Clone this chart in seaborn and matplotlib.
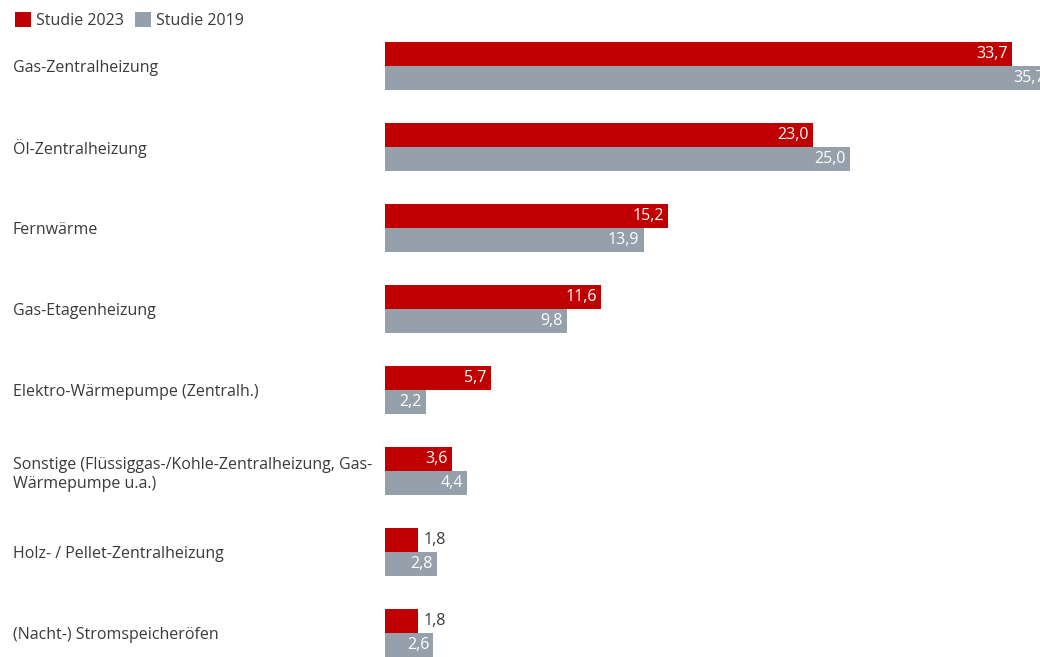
import matplotlib
matplotlib.use("Agg")
import matplotlib.pyplot as plt
import seaborn as sns
import pandas as pd

categories = [
    "Gas-Zentralheizung",
    "Öl-Zentralheizung",
    "Fernwärme",
    "Gas-Etagenheizung",
    "Elektro-Wärmepumpe (Zentralh.)",
    "Sonstige (Flüssiggas-/Kohle-Zentralheizung, Gas-\nWärmepumpe u.a.)",
    "Holz- / Pellet-Zentralheizung",
    "(Nacht-) Stromspeicheröfen",
]
studie_2023 = [33.7, 23.0, 15.2, 11.6, 5.7, 3.6, 1.8, 1.8]
studie_2019 = [35.7, 25.0, 13.9, 9.8, 2.2, 4.4, 2.8, 2.6]
series = ["Studie 2023", "Studie 2019"]
colors = ["#C00000", "#96A0AA"]

df = pd.DataFrame({
    "Kategorie": categories * 2,
    "Wert": studie_2023 + studie_2019,
    "Studie": [series[0]] * len(categories) + [series[1]] * len(categories),
})

sns.set_theme(style="white")
plt.rcParams["font.family"] = ["Open Sans", "DejaVu Sans"]
text_color = "#3a3a3a"
fs = 11.5

W, H = 1040, 657
fig = plt.figure(figsize=(W / 100, H / 100), dpi=100)
ax = fig.add_axes([385 / W, 0, 1 - 385 / W, 1])

sns.barplot(data=df, y="Kategorie", x="Wert", hue="Studie", orient="h",
            palette=colors, width=0.6, ax=ax, legend=False, saturation=1,
            order=categories, hue_order=series, linewidth=0, edgecolor="none")

px_per_unit = 18.6
ax.set_xlim(0, (W - 385) / px_per_unit)
ax.set_ylim((H - 66) / 81, -66 / 81)

for spine in ax.spines.values():
    spine.set_visible(False)
ax.set_xticks([])
ax.set_xlabel("")
ax.set_ylabel("")
ax.tick_params(axis="y", length=0, pad=372 * 72 / 100)
ax.set_yticks(range(len(categories)))
ax.set_yticklabels(categories, ha="left", fontsize=fs, color=text_color,
                   multialignment="left", linespacing=1.25)

for cont in ax.containers:
    for bar in cont:
        v = bar.get_width()
        y = bar.get_y() + bar.get_height() / 2
        lab = f"{v:.1f}".replace(".", ",")
        if v > 2.0:
            ax.annotate(lab, (v, y), xytext=(-3, 0), textcoords="offset points",
                        ha="right", va="center", color="white", fontsize=fs,
                        annotation_clip=False)
        else:
            ax.annotate(lab, (v, y), xytext=(4, 0), textcoords="offset points",
                        ha="left", va="center", color=text_color, fontsize=fs,
                        annotation_clip=False)

from matplotlib.patches import Patch
handles = [Patch(facecolor=c, edgecolor="none") for c in colors]
fig.legend(handles, series, loc="upper left", bbox_to_anchor=(0.004, 0.998),
           ncol=2, frameon=False, fontsize=fs, handlelength=1.0,
           handleheight=1.0, handletextpad=0.3, columnspacing=0.7,
           labelcolor=text_color, borderaxespad=0.3)

fig.savefig("out.png", dpi=100)
